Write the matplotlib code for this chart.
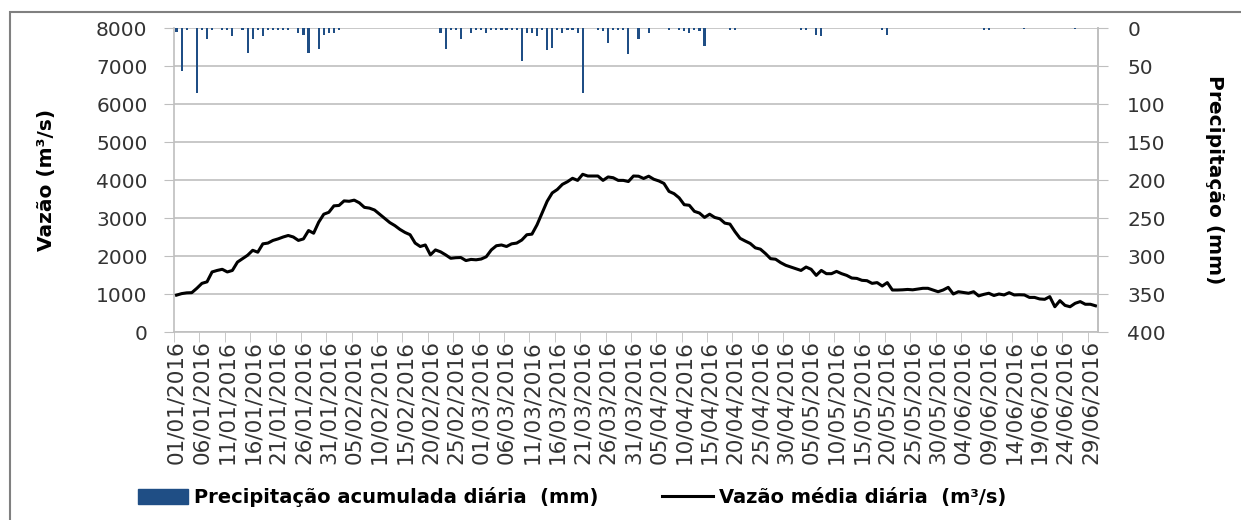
import matplotlib
matplotlib.use("Agg")
import matplotlib.pyplot as plt
import matplotlib.patches as mpatches
from matplotlib.lines import Line2D
import numpy as np
import pandas as pd

plt.rcParams['font.family'] = ['DejaVu Sans']

# ---- data ----
dates = pd.date_range('2016-01-01', '2016-06-30', freq='D')

vazao = [
    970, 1010, 1030, 1035, 1150, 1280, 1320, 1580, 1620, 1650,
    1580, 1620, 1840, 1930, 2020, 2150, 2100, 2320, 2340, 2410,
    2450, 2500, 2540, 2500, 2410, 2450, 2670, 2600, 2890, 3100,
    3150, 3320, 3330, 3450, 3440, 3470, 3400, 3280, 3260, 3210,
    3100, 2990, 2880, 2800, 2700, 2620, 2560, 2340, 2250, 2290,
    2030, 2160, 2110, 2030, 1940, 1955, 1960, 1880, 1910, 1900,
    1920, 1980, 2160, 2270, 2290, 2250, 2320, 2340, 2420, 2560,
    2575, 2820, 3130, 3440, 3660, 3750, 3885, 3955, 4045, 3990,
    4150, 4105, 4105, 4105, 3990, 4080, 4060, 3990, 3990, 3960,
    4105, 4100, 4040, 4100, 4020, 3975, 3910, 3700, 3640, 3530,
    3350, 3335, 3175, 3130, 3015, 3100, 3015, 2980, 2865, 2840,
    2640, 2465, 2395, 2330, 2215, 2180, 2065, 1930, 1915, 1825,
    1755, 1710, 1665, 1620, 1710, 1650, 1490, 1620, 1535, 1535,
    1595, 1535, 1490, 1420, 1410, 1360, 1350, 1280, 1300, 1210,
    1300, 1105, 1105, 1110, 1120, 1110, 1130, 1150, 1150, 1105,
    1060, 1105, 1175, 1000, 1060, 1040, 1020, 1060, 950, 990,
    1020, 960, 1000, 975, 1035, 975, 980, 975, 910, 910,
    870, 860, 930, 665, 825, 700, 665, 755, 800, 730,
    730, 690,
]

# daily precipitation (mm), keyed by day index from 01/01/2016
precip_days = [0, 1, 2, 4, 5, 6, 7, 9, 10, 11, 13, 14, 15, 16, 17, 18, 19, 20, 21, 22,
               24, 25, 26, 28, 29, 30, 31, 32,
               52, 53, 54, 55, 56, 58, 59, 60, 61, 62, 63, 64, 65, 66, 67, 68, 69, 70,
               71, 72, 73, 74, 75, 76, 77, 78, 79, 80,
               83, 84, 85, 86, 87, 88, 89, 91, 93, 97, 99, 100, 101, 102, 103, 104,
               109, 110, 123, 124, 126, 127, 139, 140, 159, 160, 167, 177]
precip_mm = [5, 56, 2, 86, 3, 15, 2, 2, 2, 10, 2, 33, 15, 2, 10, 2, 2, 2, 2, 2,
             7, 9, 33, 27, 9, 7, 7, 2,
             6, 27, 2, 2, 14, 6, 2, 2, 6, 2, 2, 2, 2, 2, 2, 43, 6, 6,
             11, 2, 29, 26, 2, 7, 2, 2, 6, 86,
             2, 4, 20, 2, 2, 2, 34, 15, 7, 2, 2, 4, 7, 2, 4, 24,
             3, 2, 3, 2, 9, 10, 2, 9, 3, 2, 1, 1]

left_ticks = [0, 1000, 2000, 3000, 4000, 5000, 6000, 7000, 8000]
right_ticks = [0, 50, 100, 150, 200, 250, 300, 350, 400]

# ---- figure ----
W, H = 1241, 520
fig = plt.figure(figsize=(W / 100, H / 100), dpi=100)
ax = fig.add_axes([174 / W, 1 - 332 / H, (1098 - 174) / W, (332 - 28) / H])

x = np.arange(len(dates))
grid_c = '#BFBFBF'
tick_c = '#333333'

ax.plot(x, vazao, color='black', lw=2.2, solid_joinstyle='round', zorder=3)
ax.set_ylim(0, 8000)
ax.set_xlim(-0.5, len(dates) - 0.5)
ax.set_yticks(left_ticks)
ax.yaxis.grid(True, color=grid_c, lw=1.2)
ax.set_axisbelow(True)

label_idx = list(range(0, len(dates), 5))
ax.set_xticks(label_idx)
ax.set_xticklabels([dates[i].strftime('%d/%m/%Y') for i in label_idx], rotation=90)
ax.set_xticks([i - 0.5 for i in range(0, len(dates) + 1, 5)], minor=True)
ax.tick_params(axis='x', which='major', length=0, pad=6, labelsize=15.5, labelcolor=tick_c)
ax.tick_params(axis='x', which='minor', length=7, color=grid_c, direction='out')
ax.tick_params(axis='y', length=7, color=grid_c, labelsize=14.5, labelcolor=tick_c, pad=12)

ax.spines['top'].set_visible(False)
for s in ['left', 'bottom', 'right']:
    ax.spines[s].set_color(grid_c)
    ax.spines[s].set_linewidth(1.2)

ax.set_ylabel('Vazão (m³/s)', fontsize=14.5, fontweight='bold', labelpad=29)

ax2 = ax.twinx()
ax2.bar(precip_days, precip_mm, width=0.42, color='#1F4E85', zorder=2)
ax2.set_ylim(400, 0)
ax2.set_yticks(right_ticks)
ax2.tick_params(axis='y', length=7, color=grid_c, labelsize=14.5, labelcolor=tick_c, pad=14)
for s in ['top', 'left', 'bottom']:
    ax2.spines[s].set_visible(False)
ax2.spines['right'].set_color(grid_c)
ax2.spines['right'].set_linewidth(1.2)
ax2.set_ylabel('Precipitação (mm)', fontsize=14.5, fontweight='bold', rotation=270,
               labelpad=42)

# legend
handles = [mpatches.Patch(color='#1F4E85'),
           Line2D([0], [0], color='black', lw=2.2)]
labels = ['Precipitação acumulada diária  (mm)', 'Vazão média diária  (m³/s)']
fig.legend(handles, labels, loc='center left', bbox_to_anchor=(120 / W, 1 - 497 / H),
           ncol=2, frameon=False, prop={'size': 14, 'weight': 'bold'},
           handlelength=2.6, handleheight=0.8, handletextpad=0.3, columnspacing=3.3)

# outer frame
fig.add_artist(mpatches.Rectangle((10 / W, -0.05), 1.1, 1 - 12 / H + 0.05,
                                  transform=fig.transFigure, fill=False,
                                  edgecolor='#808080', lw=1.5))

fig.savefig('out.png', dpi=100)
